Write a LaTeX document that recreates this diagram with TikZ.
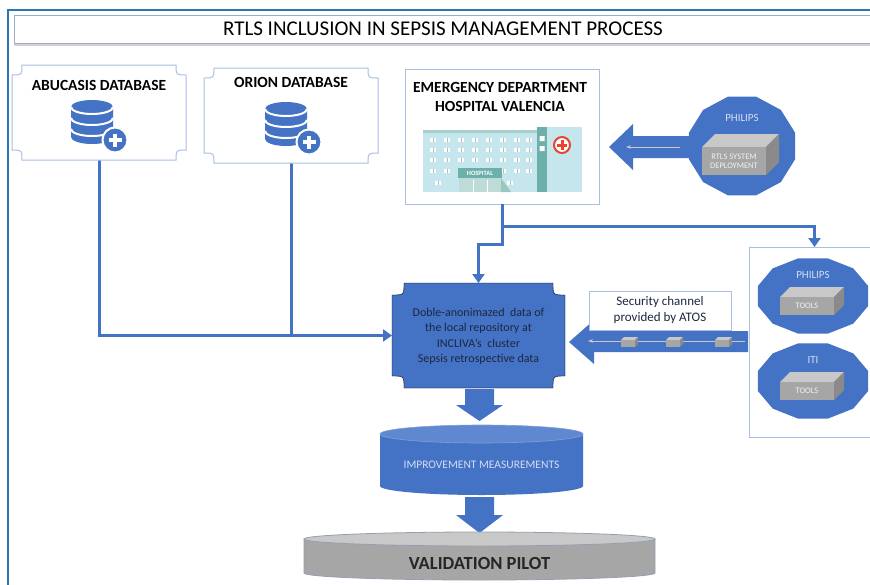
\documentclass[tikz,border=0pt]{standalone}
\usepackage{fontspec}
\setmainfont{Carlito}
\usetikzlibrary{positioning,calc,arrows.meta}

\definecolor{rtblue}{HTML}{4472C4}
\definecolor{rtbluetop}{HTML}{5F88D0}
\definecolor{rtedge}{HTML}{A9BEE4}
\definecolor{rtframe}{HTML}{2E75B6}
\definecolor{rtnavy}{HTML}{1C2841}
\definecolor{rtpale}{HTML}{D3DEF3}
\definecolor{rtgray}{HTML}{A6A6A6}
\definecolor{rtgraytop}{HTML}{C8C8C8}
\definecolor{rtgrayside}{HTML}{8A8A8A}
\definecolor{rtcyan}{HTML}{C6E6EE}
\definecolor{rtteal}{HTML}{6DB0A9}
\definecolor{rtred}{HTML}{E8442E}

\tikzset{
  link/.style={rtblue, line width=3pt},
  linkto/.style={link, -{Triangle[width=12pt,length=9pt]}},
  area/.style={inner sep=0pt, outer sep=0pt},
  panel/.style={area, draw=rtedge, line width=1pt, fill=white},
  heading/.style={font=\bfseries\fontsize{15.5}{19}\selectfont, align=center},
  darklabel/.style={text=rtnavy, font=\fontsize{12}{15.5}\selectfont, align=center},
  paletext/.style={text=rtpale, font=\fontsize{11}{12}\selectfont},
  boxtext/.style={text=white!85!rtgray, font=\fontsize{8.5}{9}\selectfont, align=center},
}

\newcommand\notched[3]{%
  \draw[#3] ($(#1.north west)+(#2,0)$) -- ($(#1.north east)+(-#2,0)$)
    .. controls ($(#1.north east)+(-#2,#2)$) .. ($(#1.north east)+(0,#2)$)
    -- ($(#1.south east)+(0,-#2)$)
    .. controls ($(#1.south east)+(-#2,-#2)$) .. ($(#1.south east)+(-#2,0)$)
    -- ($(#1.south west)+(#2,0)$)
    .. controls ($(#1.south west)+(#2,-#2)$) .. ($(#1.south west)+(0,-#2)$)
    -- ($(#1.north west)+(0,#2)$)
    .. controls ($(#1.north west)+(#2,#2)$) .. ($(#1.north west)+(#2,0)$) -- cycle;}

\newcommand\dbicon[2]{%
  \begin{scope}[shift={(#1,#2)}]
    \fill[rtblue] (-21,-14) -- (-21,16) arc[start angle=180,end angle=0,x radius=21,y radius=7]
      -- (21,-14) arc[start angle=0,end angle=-180,x radius=21,y radius=7] -- cycle;
    \foreach \s in {-14,-3,8}
      \draw[white,line width=2pt] (-21,\s) arc[start angle=180,end angle=0,x radius=21,y radius=7];
    \fill[rtblue] (23,19) circle[radius=12.5];
    \draw[white,line width=2pt] (23,19) circle[radius=12.5];
    \draw[white,line width=3.5pt] (16.5,19) -- (29.5,19) (23,12.5) -- (23,25.5);
  \end{scope}}

\newcommand\crate[5]{%
  \fill[rtgraytop] (#1,#2) -- ++(#5,-#5) -- ++(#3,0) -- ++(-#5,#5) -- cycle;
  \fill[rtgrayside] (#1+#3,#2) -- ++(#5,-#5) -- ++(0,#4) -- ++(-#5,#5) -- cycle;
  \fill[rtgray] (#1,#2) rectangle ++(#3,#4);}

\newcommand\blob[4]{%
  \fill[rtblue] plot[samples at={15,45,...,345}] ({#1+#3*cos(\x)},{#2+#4*sin(\x)}) -- cycle;}

\begin{document}
\begin{tikzpicture}[x=1pt,y=-1pt]
\useasboundingbox (0,0) rectangle (870,584);
\fill[white] (0,0) rectangle (870,584);

\draw[rtframe, line width=1.2pt] (8,600) -- (8,10) -- (890,10);
\draw[gray!35, line width=2pt] (15,17) rectangle (890,45);
\draw[rtedge!70!gray, fill=white, line width=1pt] (14,15) rectangle (890,43);
\node[font=\fontsize{21}{22}\selectfont] (title) at (443,29) {RTLS INCLUSION IN SEPSIS MANAGEMENT PROCESS};

% boxes
\node[area, minimum width=174pt, minimum height=95pt] (abucasis) at (99,112.5) {};
\node[area, minimum width=174pt, minimum height=95pt] (orion) at (291,115.5) {};
\node[panel, minimum width=194pt, minimum height=135pt] (emergency) at (502,136.5) {};
\node[area, minimum width=173pt, minimum height=105pt] (repo) at (478.5,335.5) {};
\node[panel, minimum width=131pt, minimum height=190pt] (partners) at (814.5,342) {};

% connectors
\draw[linkto] (abucasis.south) |- (repo.west);
\draw[link] (orion.south) -- (orion.south |- repo.west);
\draw[linkto] (emergency.south) -- ++(0,40) -| (repo.north);
\draw[linkto] (emergency.south) ++(0,22) -| (partners.north);

\notched{abucasis}{10}{draw=rtedge, line width=1pt, fill=white}
\notched{orion}{10}{draw=rtedge, line width=1pt, fill=white}
\notched{repo}{12}{fill=rtblue}

\node[heading] (abuname) at (99,85) {ABUCASIS DATABASE};
\node[heading] (orionname) at (291,82) {ORION DATABASE};
\node[heading] (edname) at (500,97) {EMERGENCY DEPARTMENT\\HOSPITAL VALENCIA};
\dbicon{92}{121}
\dbicon{286}{123}
\node[darklabel] (repotext) at (478.5,336.5) {Doble-anonimazed~ data of\\the local repository at\\INCLIVA's~ cluster\\Sepsis retrospective data};

% hospital
\begin{scope}[shift={(423,127)}]
\fill[rtcyan] (0,3) rectangle (114,65);
\fill[rtteal!60] (0,3) rectangle (114,6);
\fill[rtteal] (114,0) rectangle (124,65);
\fill[white] (116.5,9) rectangle (121.5,14) (116.5,19) rectangle (121.5,24);
\fill[rtcyan] (124,0) rectangle (159,65);
\foreach \r in {13,23,33,44}
  \foreach \c in {10,24,38,52,66,80,94,106} {
    \fill[white] (\c-3,\r-2) rectangle (\c+3,\r+2);
    \draw[gray!55, line width=0.4pt] (\c,\r-2) -- (\c,\r+2);
  }
\foreach \c in {15,87} {
  \fill[white] (\c-3,54) rectangle (\c+3,58);
  \draw[gray!55, line width=0.4pt] (\c,54) -- (\c,58);
}
\fill[rtteal!45] (36,51) rectangle (78,65);
\draw[white, line width=0.8pt] (50,53) -- (50,65) (64,53) -- (64,65);
\fill[rtteal!70] (78,51) -- (78,65) -- (88,65) -- cycle;
\fill[rtteal] (35,41) rectangle (79,51);
\node[white, font=\bfseries\fontsize{6.5}{7}\selectfont] (hsign) at (57,46) {HOSPITAL};
\filldraw[fill=white, draw=rtred, line width=2pt] (139,18) circle[radius=8];
\draw[rtred, line width=3pt] (134,18) -- (144,18) (139,13) -- (139,23);
\end{scope}

% RTLS deployment
\fill[rtblue] (609,147) -- (633,124) -- (633,136) -- (705,136) -- (705,158) -- (633,158) -- (633,170) -- cycle;
\draw[rtgraytop, line width=1pt, -{Stealth[length=5pt]}] (680,147) -- (626,147);
\blob{742}{146}{55}{51}
\node[paletext] (rtlsname) at (742,118) {PHILIPS};
\crate{702}{147}{64}{28}{13}
\node[boxtext] (rtlsbox) at (734,161) {RTLS SYSTEM\\DEPLOYMENT};

% security channel
\fill[rtblue] (569,342) -- (594,320) -- (594,331) -- (748,331) -- (748,352) -- (594,352) -- (594,364) -- cycle;
\draw[rtgraytop, line width=1pt, -{Stealth[length=5pt]}] (745,341) -- (588,341);
\foreach \c in {621,666,715}
  \crate{\c}{340}{14}{7}{3}
\node[panel, minimum width=142pt, minimum height=39pt, darklabel, font=\fontsize{13}{16}\selectfont] (channel) at (660,310.5) {Security channel\\provided by ATOS};

% partner tools
\blob{813}{296}{57}{39}
\node[paletext] (philipsname) at (813,275) {PHILIPS};
\crate{780}{297}{54}{18}{10}
\node[boxtext] (philipstools) at (807,306) {TOOLS};
\blob{813}{381}{57}{39}
\node[paletext] (itiname) at (813,360) {ITI};
\crate{780}{382}{54}{18}{10}
\node[boxtext] (ititools) at (807,391) {TOOLS};

% outcome
\fill[rtblue] (465,389) -- (494,389) -- (494,405) -- (503,405) -- (479.5,421) -- (456,405) -- (465,405) -- cycle;
\fill[rtblue] (380,434) -- (380,486) arc[start angle=180,end angle=0,x radius=101.5,y radius=9] -- (583,434) -- cycle;
\filldraw[fill=rtbluetop, draw=rtedge!60!rtblue, line width=0.6pt] (481.5,434) ellipse[x radius=101.5,y radius=9];
\node[text=rtpale, font=\fontsize{11.5}{12}\selectfont] (improve) at (481.5,465) {IMPROVEMENT MEASUREMENTS};
\fill[rtblue] (465,497) -- (494,497) -- (494,515) -- (503,515) -- (479.5,533) -- (456,515) -- (465,515) -- cycle;
\filldraw[fill=rtgray, draw=rtedge!50!gray, line width=0.8pt] (304,539) -- (304,573) arc[start angle=180,end angle=0,x radius=175.5,y radius=7] -- (655,539) -- cycle;
\filldraw[fill=rtgraytop, draw=rtedge!50!gray, line width=0.8pt] (479.5,539) ellipse[x radius=175.5,y radius=7];
\node[font=\bfseries\fontsize{18.5}{20}\selectfont, text=black!85] (pilot) at (479.5,563) {VALIDATION PILOT};
\end{tikzpicture}
\end{document}
